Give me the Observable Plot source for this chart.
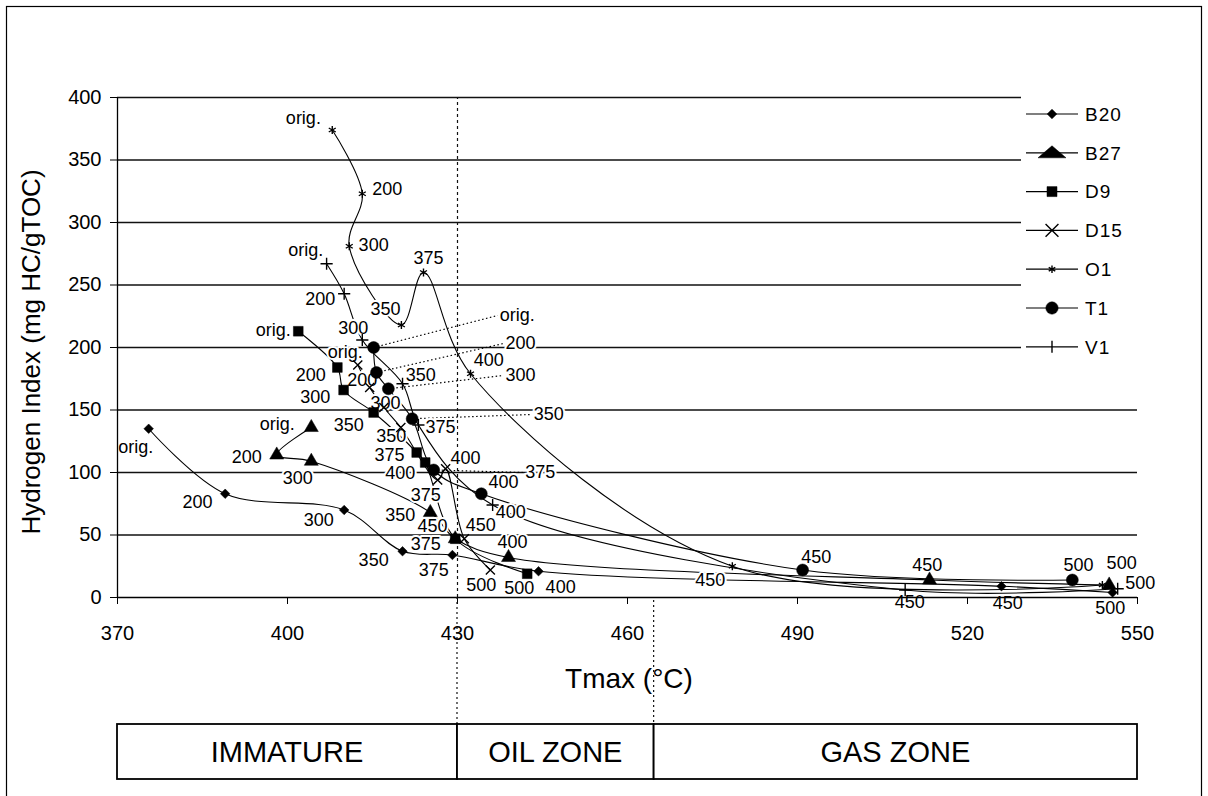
<!DOCTYPE html>
<html>
<head>
<meta charset="utf-8">
<script src="https://cdn.jsdelivr.net/npm/d3@7"></script>
<script src="https://cdn.jsdelivr.net/npm/@observablehq/plot@0.6"></script>
<style>
  html, body { margin: 0; padding: 0; background: #fff; }
  #chart { width: 1208px; height: 796px; }
</style>
</head>
<body>
<div id="chart"></div>
<script>
// ---------------- DATA ----------------
const seriesNames = ["B20", "B27", "D9", "D15", "O1", "T1", "V1"];
const stepLabels  = ["orig.", "200", "300", "350", "375", "400", "450", "500"];

const xTicks = [370, 400, 430, 460, 490, 520, 550];
const yTicks = [0, 50, 100, 150, 200, 250, 300, 350, 400];

const zoneNames = ["IMMATURE", "OIL ZONE", "GAS ZONE"];
const zoneStart = [370, 430, 464.7];
const zoneEnd   = [430, 464.7, 550];

// Tmax (°C) and Hydrogen Index per heating step
const tmaxB20 = [375.5, 389.0, 410.0, 420.3, 429.1, 444.3, 526.0, 545.6];
const hiB20   = [135, 83, 70, 37, 34, 21, 9, 4];
const tmaxB27 = [404.2, 398.1, 404.2, 425.2, 429.6, 439.0, 513.3, 545.0];
const hiB27   = [136, 114, 109, 68, 47, 32, 14, 10];
const tmaxD9  = [401.9, 408.8, 409.9, 415.2, 422.8, 424.3, 429.6, 442.3];
const hiD9    = [213, 184, 166, 148, 116, 108, 47, 19];
const tmaxD15 = [412.4, 414.5, 417.0, 420.0, 426.5, 427.9, 431.2, 435.8];
const hiD15   = [186, 168, 152, 136, 94, 103, 47, 22];
const tmaxO1  = [407.9, 413.2, 410.9, 420.1, 424.0, 432.3, 478.5, 543.8];
const hiO1    = [374, 323, 281, 218, 260, 179, 25, 10];
const tmaxT1  = [415.2, 415.7, 417.8, 422.0, 425.8, 434.2, 490.9, 538.5];
const hiT1    = [200, 180, 167, 143, 102, 83, 22, 14];
const tmaxV1  = [406.9, 410.0, 413.2, 420.3, 423.1, 436.2, 509.0, 546.5];
const hiV1    = [267, 243, 206, 171, 138, 74, 6, 7];

// where each step label sits (in Tmax / HI units)
const labTmaxB20 = [373.2, 384.1, 405.5, 415.2, 425.8, 448.2, 527.1, 545.2];
const labHiB20   = [120, 76, 61.6, 29.6, 21.6, 8, -4.8, -8.8];
const labTmaxB27 = [398.2, 392.8, 401.8, 419.9, 424.4, 439.7, 512.9, 550.5];
const labHiB27   = [138.4, 112, 95.2, 65.6, 42.5, 44, 25.6, 11.2];
const labTmaxD9  = [397.5, 404.1, 404.9, 410.8, 418.0, 419.9, 425.6, 440.9];
const labHiD9    = [213.6, 177.6, 160, 137.6, 113.5, 99.5, 57, 7.2];
const labTmaxD15 = [410.2, 413.2, 417.3, 418.3, 424.4, 431.4, 434.1, 434.2];
const labHiD15   = [196, 173.6, 155.2, 129, 81.6, 111.2, 57.6, 9.6];
const labTmaxO1  = [402.8, 417.6, 415.2, 417.3, 424.9, 435.5, 474.6, 547.2];
const labHiO1    = [383.2, 326.4, 281.6, 230.4, 271.2, 189.6, 13.6, 27.2];
const labTmaxT1  = [437.1, 438.1, 438.1, 443.1, 441.6, 438.1, 493.3, 539.6];
const labHiT1    = [225.6, 203.2, 177.6, 146.4, 100, 92, 32, 25.6];
const labTmaxV1  = [403.2, 405.8, 411.6, 423.5, 427.0, 439.4, 509.8, null];
const labHiV1    = [277.6, 238.4, 215.2, 177.6, 136, 68, -4, null];
// T1 labels moved away and joined to their points by dotted leader lines
const leaderT1   = [true, true, true, true, true, false, false, false];

// ---------------- build table ----------------
const tmax = {B20: tmaxB20, B27: tmaxB27, D9: tmaxD9, D15: tmaxD15, O1: tmaxO1, T1: tmaxT1, V1: tmaxV1};
const hi   = {B20: hiB20, B27: hiB27, D9: hiD9, D15: hiD15, O1: hiO1, T1: hiT1, V1: hiV1};
const labX = {B20: labTmaxB20, B27: labTmaxB27, D9: labTmaxD9, D15: labTmaxD15, O1: labTmaxO1, T1: labTmaxT1, V1: labTmaxV1};
const labY = {B20: labHiB20, B27: labHiB27, D9: labHiD9, D15: labHiD15, O1: labHiO1, T1: labHiT1, V1: labHiV1};

const rows = [];
seriesNames.forEach(s => stepLabels.forEach((step, i) => rows.push({
  series: s, step, tmax: tmax[s][i], hi: hi[s][i],
  lx: labX[s][i], ly: labY[s][i], leader: s === "T1" && leaderT1[i]
})));

// ---------------- styles ----------------
const FONT = "'Liberation Sans', Arial, Helvetica, sans-serif";
const symbolOf = {B20: "diamond2", B27: "triangle", D9: "square", D15: "times", O1: "asterisk", T1: "circle", V1: "plus"};
const filled   = {B20: true, B27: true, D9: true, D15: false, O1: false, T1: true, V1: false};
const rOf      = {B20: 4.3, B27: 5.2, D9: 5.5, D15: 4.2, O1: 3.8, T1: 6, V1: 4};

const labelStyle = {text: "step", fontSize: 18, fill: "black", stroke: "white", strokeWidth: 4};

const chart = Plot.plot({
  width: 1208, height: 796,
  marginLeft: 117, marginRight: 71, marginTop: 97, marginBottom: 199,
  x: {domain: [370, 550]},
  y: {domain: [0, 400]},
  style: {fontFamily: FONT, background: "white", color: "black", overflow: "visible"},
  marks: [
    Plot.ruleY(yTicks.filter(d => d > 0), {x1: 370, x2: 550, stroke: "#111", strokeWidth: 1.3}),
    Plot.ruleX([430], {y1: 0, y2: 400, stroke: "#111", strokeWidth: 1.2, strokeDasharray: "3,3"}),
    Plot.line(rows, {x: "tmax", y: "hi", z: "series", curve: "catmull-rom", stroke: "black", strokeWidth: 1.1}),
    Plot.link(rows.filter(d => d.leader), {x1: "tmax", y1: "hi", x2: "lx", y2: "ly", stroke: "black", strokeWidth: 1.2, strokeDasharray: "1.5,2.5"}),
    Plot.text(rows.filter(d => d.lx != null && !d.leader), {x: "lx", y: "ly", ...labelStyle}),
    Plot.text(rows.filter(d => d.leader), {x: "lx", y: "ly", textAnchor: "start", dx: 2, ...labelStyle}),
    ...seriesNames.map(s => Plot.dot(rows.filter(d => d.series === s), {
      x: "tmax", y: "hi", symbol: symbolOf[s], r: rOf[s],
      fill: filled[s] ? "black" : "none", stroke: "black", strokeWidth: filled[s] ? 0.5 : 1.4
    })),
    Plot.ruleX([370], {y1: 0, y2: 400, stroke: "black", strokeWidth: 1.3}),
    Plot.ruleY([0], {x1: 370, x2: 550, stroke: "black", strokeWidth: 1.3}),
    Plot.axisX({ticks: xTicks, tickSize: 7, tickPadding: 21, fontSize: 20, label: null, tickFormat: d => String(d)}),
    Plot.axisY({ticks: yTicks, tickSize: 7, tickPadding: 9, fontSize: 20, label: null, tickFormat: d => String(d)})
  ]
});

document.getElementById("chart").appendChild(chart);

// ---------------- decorations through the same scales ----------------
const svg = d3.select(chart);
const xs = chart.scale("x"), ys = chart.scale("y");
const X = v => xs.apply(v), Y = v => ys.apply(v);

const boxTop = 724, boxBottom = 779;

// outer frame
svg.append("rect").attr("x", 6.5).attr("y", 6.5).attr("width", 1195).attr("height", 800)
  .attr("fill", "none").attr("stroke", "black").attr("stroke-width", 1.2);

// dotted zone boundaries down to the zone box
svg.append("line").attr("x1", X(430)).attr("x2", X(430)).attr("y1", Y(0)).attr("y2", boxTop)
  .attr("stroke", "#111").attr("stroke-width", 1.2).attr("stroke-dasharray", "2,3");
svg.append("line").attr("x1", X(zoneStart[2])).attr("x2", X(zoneStart[2])).attr("y1", Y(0) + 3).attr("y2", boxTop)
  .attr("stroke", "#111").attr("stroke-width", 1.2).attr("stroke-dasharray", "2,3");

// zone box
const zg = svg.append("g").attr("font-family", FONT);
zoneNames.forEach((name, i) => {
  zg.append("rect").attr("x", X(zoneStart[i])).attr("y", boxTop)
    .attr("width", X(zoneEnd[i]) - X(zoneStart[i])).attr("height", boxBottom - boxTop)
    .attr("fill", "white").attr("stroke", "black").attr("stroke-width", 1.8);
  zg.append("text").attr("x", (X(zoneStart[i]) + X(zoneEnd[i])) / 2).attr("y", (boxTop + boxBottom) / 2)
    .attr("dy", "0.36em").attr("text-anchor", "middle").attr("font-size", 29).text(name);
});

// axis titles
svg.append("text").attr("transform", "translate(31,352) rotate(-90)")
  .attr("dy", "0.36em").attr("text-anchor", "middle").attr("font-family", FONT).attr("font-size", 26)
  .text("Hydrogen Index (mg HC/gTOC)");
svg.append("text").attr("x", 629).attr("y", 678)
  .attr("dy", "0.36em").attr("text-anchor", "middle").attr("font-family", FONT).attr("font-size", 28)
  .text("Tmax (°C)");

// legend
const lg = svg.append("g").attr("font-family", FONT);
lg.append("rect").attr("x", 1021).attr("y", 92).attr("width", 140).attr("height", 270).attr("fill", "white");
const legendSym = {
  B20: d3.symbol(d3.symbolDiamond2, 60)(),
  B27: "M-14,5L0,-7L14,5Z",
  D9: d3.symbol(d3.symbolSquare, 100)(),
  D15: d3.symbol(d3.symbolTimes, 110)(),
  O1: d3.symbol(d3.symbolAsterisk, 40)(),
  T1: d3.symbol(d3.symbolCircle, 120)(),
  V1: "M0,-6L0,6"
};
seriesNames.forEach((s, i) => {
  const y = 114 + i * 38.8;
  lg.append("line").attr("x1", 1026).attr("x2", 1078).attr("y1", y).attr("y2", y)
    .attr("stroke", "black").attr("stroke-width", 1.2);
  lg.append("path").attr("d", legendSym[s]).attr("transform", `translate(1052,${y})`)
    .attr("fill", filled[s] ? "black" : "none").attr("stroke", "black").attr("stroke-width", filled[s] ? 0.5 : 1.4);
  lg.append("text").attr("x", 1085).attr("y", y).attr("dy", "0.36em").attr("font-size", 19)
    .attr("text-anchor", "start").attr("letter-spacing", 1).text(s);
});
</script>
</body>
</html>
